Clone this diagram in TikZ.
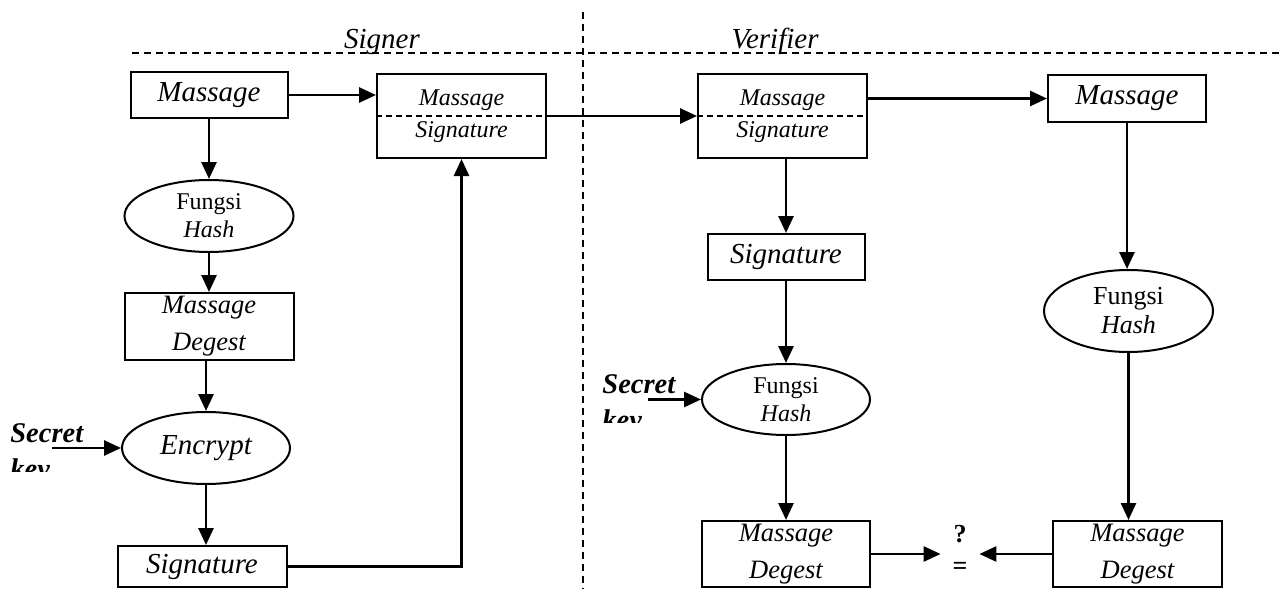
\documentclass[tikz,border=0pt]{standalone}
\usepackage{fontspec}
\setmainfont{Liberation Serif}
\usetikzlibrary{shapes.geometric,arrows.meta}

\newcommand{\txtL}{\fontsize{14.5}{17}\selectfont\itshape}
\newcommand{\txtD}{\fontsize{13.25}{18.5}\selectfont\itshape}
\newcommand{\txtS}{\fontsize{12}{16}\selectfont\itshape}
\newcommand{\txtH}{\fontsize{12}{14}\selectfont}
\newcommand{\txtK}{\fontsize{14.25}{18}\selectfont\bfseries\itshape}

\tikzset{
  box/.style 2 args={draw,rectangle,line width=1pt,minimum width=#1,minimum height=#2},
  oval/.style 2 args={draw,ellipse,line width=1pt,minimum width=#1,minimum height=#2},
  flow/.style={line width=1.4pt,-{Triangle[length=8.5pt,width=7.5pt]}},
  sep/.style={line width=1pt,dash pattern=on 3.5pt off 2.5pt},
  keytext/.style={anchor=base west,align=left,font=\txtK}
}

\begin{document}
\begin{tikzpicture}[x=0.5pt,y=0.5pt]
\tikzstyle{every node}+=[inner sep=0pt]
\useasboundingbox (0,0) rectangle (1280,-589);

% split between the two parties
\draw[sep] (132,-53) -- (1280,-53);
\draw[sep] (583,-12) -- (583,-589);
\node[anchor=base] (signer) at (382,-48) {\txtL Signer};
\node[anchor=base] (verifier) at (775,-48) {\txtL Verifier};

% signer
\node[box={78.5pt}{23pt}] (msgA) at (209,-95) {\txtL Massage};
\node[oval={84.5pt}{36pt},font=\txtH,align=center] (hashA) at (209,-216) {Fungsi\\\textit{Hash}};
\node[box={84.5pt}{33.5pt},font=\txtD,align=center] (degA) at (209,-326.5) {Massage\\Degest};
\node[oval={84pt}{36pt}] (encA) at (206,-448) {\txtL Encrypt};
\node[box={84.5pt}{20.5pt}] (sigA) at (202,-566.5) {\txtL Signature};
\node[box={84.5pt}{42pt},font=\txtS,align=center] (pairA) at (461.5,-116) {Massage\\Signature};
\draw[line width=1pt,dash pattern=on 3pt off 2pt] (pairA.west) -- (pairA.east);
\begin{scope}
\clip (0,-400) rectangle (130,-471);
\node[keytext] (keyA) at (10,-478) {Secret\\key};
\end{scope}
\coordinate (keyinA) at (52,-448);

% verifier
\node[box={84.5pt}{42pt},font=\txtS,align=center] (pairB) at (782.5,-116) {Massage\\Signature};
\draw[line width=1pt,dash pattern=on 3pt off 2pt] (pairB.west) -- (pairB.east);
\node[box={79pt}{23.5pt}] (msgB) at (1127,-98.5) {\txtL Massage};
\node[box={78.5pt}{23pt}] (sigB) at (786,-257) {\txtL Signature};
\node[oval={84pt}{35.5pt},font=\txtH,align=center] (hashB) at (786,-399.5) {Fungsi\\\textit{Hash}};
\node[box={84pt}{33pt},font=\txtD,align=center] (degB) at (786,-554) {Massage\\Degest};
\node[oval={84.5pt}{41pt},font=\fontsize{13}{14.5}\selectfont,align=center] (hashC) at (1128.5,-311) {Fungsi\\\textit{Hash}};
\node[box={84.5pt}{33pt},font=\txtD,align=center] (degC) at (1137.5,-554) {Massage\\Degest};
\node[minimum width=19pt,font=\fontsize{13}{16}\selectfont\bfseries,align=center] (cmp) at (960,-550) {?\\=};
\begin{scope}
\clip (590,-350) rectangle (700,-422);
\node[keytext] (keyB) at (602,-429) {Secret\\key};
\end{scope}
\coordinate (keyinB) at (648,-399.5);

% signer flow
\draw[flow] (msgA) -- (hashA);
\draw[flow] (hashA) -- (degA);
\draw[flow] (degA.south -| encA) -- (encA);
\draw[flow] (encA) -- (encA |- sigA.north);
\draw[flow] (keyinA) -- (encA);
\draw[flow] (msgA) -- (msgA -| pairA.west);
\draw[flow] (sigA) -| (pairA);
\draw[flow] (pairA) -- (pairB);

% verifier flow
\draw[flow] (pairB.east |- msgB) -- (msgB);
\draw[flow] (pairB.south -| sigB) -- (sigB);
\draw[flow] (sigB) -- (hashB);
\draw[flow] (keyinB) -- (hashB);
\draw[flow] (hashB) -- (degB);
\draw[flow] (msgB) -- (msgB |- hashC.north);
\draw[flow] (hashC) -- (hashC |- degC.north);
\draw[flow] (degB) -- (degB -| cmp.west);
\draw[flow] (degC) -- (degC -| cmp.east);
\end{tikzpicture}
\end{document}
